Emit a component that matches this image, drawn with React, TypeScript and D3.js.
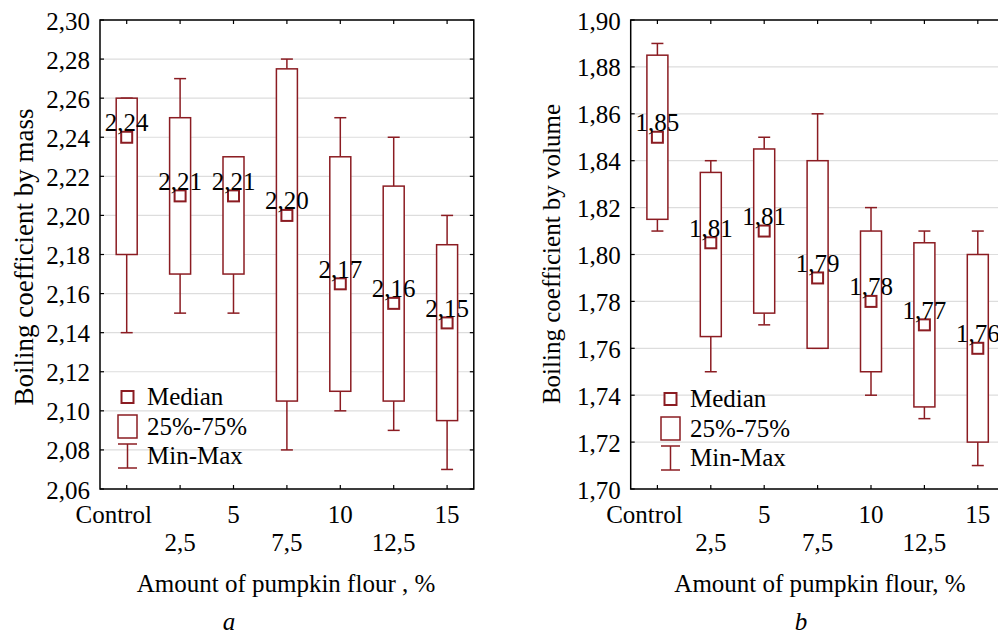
import React from "react";
import * as d3 from "d3";

const categories = ["Control", "2,5", "5", "7,5", "10", "12,5", "15"];

// Panel a: boiling coefficient by mass
const massMin = [2.14, 2.15, 2.15, 2.08, 2.10, 2.09, 2.07];
const massQ1 = [2.18, 2.17, 2.17, 2.105, 2.11, 2.105, 2.095];
const massMedian = [2.24, 2.21, 2.21, 2.20, 2.165, 2.155, 2.145];
const massQ3 = [2.26, 2.25, 2.23, 2.275, 2.23, 2.215, 2.185];
const massMax = [2.26, 2.27, 2.23, 2.28, 2.25, 2.24, 2.20];
const massLabels = ["2,24", "2,21", "2,21", "2,20", "2,17", "2,16", "2,15"];
const massTicks = [2.06, 2.08, 2.1, 2.12, 2.14, 2.16, 2.18, 2.2, 2.22, 2.24, 2.26, 2.28, 2.3];

// Panel b: boiling coefficient by volume
const volMin = [1.81, 1.75, 1.77, 1.76, 1.74, 1.73, 1.71];
const volQ1 = [1.815, 1.765, 1.775, 1.76, 1.75, 1.735, 1.72];
const volMedian = [1.85, 1.805, 1.81, 1.79, 1.78, 1.77, 1.76];
const volQ3 = [1.885, 1.835, 1.845, 1.84, 1.81, 1.805, 1.80];
const volMax = [1.89, 1.84, 1.85, 1.86, 1.82, 1.81, 1.81];
const volLabels = ["1,85", "1,81", "1,81", "1,79", "1,78", "1,77", "1,76"];
const volTicks = [1.7, 1.72, 1.74, 1.76, 1.78, 1.8, 1.82, 1.84, 1.86, 1.88, 1.9];

const legendItems = ["Median", "25%-75%", "Min-Max"];

const RED = "#8b1c22";
const FONT = "Liberation Serif, Tinos, Times New Roman, Times, serif";
const FS = 25;
const TS: React.CSSProperties = { fontFamily: FONT, fontSize: FS };

const fmt = (v: number) => v.toFixed(2).replace(".", ",");

type PanelProps = {
  left: number;
  yDomain: [number, number];
  ticks: number[];
  mins: number[];
  q1: number[];
  med: number[];
  q3: number[];
  maxs: number[];
  labels: string[];
  yTitle: string;
  yTitleX: number;
  yTitleY: number;
  yTitleSize: number;
  xTitle: string;
  xTitleX: number;
  letter: string;
  letterX: number;
  legendX: number;
  legendY: number;
};

function Panel(p: PanelProps) {
  const top = 20;
  const bottom = 489;
  const step = 53.4;
  const right = p.left + step * categories.length;
  const x = d3.scaleBand<string>().domain(categories).range([p.left, right]).paddingInner(0).paddingOuter(0);
  const cx = (c: string) => (x(c) as number) + x.bandwidth() / 2;
  const y = d3.scaleLinear().domain(p.yDomain).range([bottom, top]);
  const boxW = 21;
  const capW = 12;
  const medS = 11;
  const tick = 4;

  return (
    <g>
      {/* grid */}
      {p.ticks.map((t) => (
        <line key={"g" + t} x1={p.left} x2={right} y1={y(t)} y2={y(t)} stroke="#dddddd" strokeWidth={1.2} />
      ))}
      {/* boxes */}
      {categories.map((c, i) => {
        const xc = cx(c);
        return (
          <g key={"b" + c} stroke={RED} fill="none">
            <line x1={xc} x2={xc} y1={y(p.maxs[i])} y2={y(p.q3[i])} strokeWidth={1.5} />
            <line x1={xc} x2={xc} y1={y(p.q1[i])} y2={y(p.mins[i])} strokeWidth={1.5} />
            <line x1={xc - capW / 2} x2={xc + capW / 2} y1={y(p.maxs[i])} y2={y(p.maxs[i])} strokeWidth={1.5} />
            <line x1={xc - capW / 2} x2={xc + capW / 2} y1={y(p.mins[i])} y2={y(p.mins[i])} strokeWidth={1.5} />
            <rect x={xc - boxW / 2} y={y(p.q3[i])} width={boxW} height={y(p.q1[i]) - y(p.q3[i])} fill="white" strokeWidth={1.5} />
            <rect x={xc - medS / 2} y={y(p.med[i]) - medS / 2} width={medS} height={medS} fill="white" strokeWidth={2} />
          </g>
        );
      })}
      {/* median labels */}
      {categories.map((c, i) => (
        <text key={"l" + c} x={cx(c)} y={y(p.med[i]) - 6} textAnchor="middle" style={TS} fill="#000">
          {p.labels[i]}
        </text>
      ))}
      {/* frame */}
      <rect x={p.left} y={top} width={right - p.left} height={bottom - top} fill="none" stroke="#000" strokeWidth={1.5} />
      {/* y ticks */}
      {p.ticks.map((t) => (
        <g key={"t" + t}>
          <line x1={p.left} x2={p.left + tick} y1={y(t)} y2={y(t)} stroke="#000" strokeWidth={1.2} />
          <line x1={right - tick} x2={right} y1={y(t)} y2={y(t)} stroke="#000" strokeWidth={1.2} />
          <text x={p.left - 10} y={y(t)} dy="0.38em" textAnchor="end" style={TS} fill="#000">
            {fmt(t)}
          </text>
        </g>
      ))}
      {/* x ticks */}
      {categories.map((c, i) => (
        <g key={"x" + c}>
          <line x1={cx(c)} x2={cx(c)} y1={top} y2={top + tick} stroke="#000" strokeWidth={1.2} />
          <line x1={cx(c)} x2={cx(c)} y1={bottom} y2={bottom - tick} stroke="#000" strokeWidth={1.2} />
          <text x={i === 0 ? cx(c) - 13 : cx(c)} y={i % 2 === 0 ? 523 : 551} textAnchor="middle" style={TS} fill="#000">
            {c}
          </text>
        </g>
      ))}
      {/* legend */}
      <g>
        <rect x={p.legendX + 3.5} y={p.legendY - 6} width={12} height={12} fill="white" stroke={RED} strokeWidth={2} />
        <rect x={p.legendX} y={p.legendY + 18} width={19} height={23} fill="white" stroke={RED} strokeWidth={1.5} />
        <line x1={p.legendX + 9.5} x2={p.legendX + 9.5} y1={p.legendY + 47} y2={p.legendY + 71} stroke={RED} strokeWidth={1.5} />
        <line x1={p.legendX} x2={p.legendX + 19} y1={p.legendY + 47} y2={p.legendY + 47} stroke={RED} strokeWidth={1.5} />
        <line x1={p.legendX} x2={p.legendX + 19} y1={p.legendY + 71} y2={p.legendY + 71} stroke={RED} strokeWidth={1.5} />
        {legendItems.map((t, i) => (
          <text key={t} x={p.legendX + 29} y={p.legendY + 8 + i * 29.5} style={TS} fill="#000">
            {t}
          </text>
        ))}
      </g>
      {/* axis titles */}
      <text
        transform={`translate(${p.yTitleX},${p.yTitleY}) rotate(-90)`}
        textAnchor="middle"
        style={{ ...TS, fontSize: p.yTitleSize }}
        fill="#000"
      >
        {p.yTitle}
      </text>
      <text x={p.xTitleX} y={592} textAnchor="middle" style={TS} fill="#000">
        {p.xTitle}
      </text>
      <text x={p.letterX} y={630} textAnchor="middle" style={{ ...TS, fontStyle: "italic" }} fill="#000">
        {p.letter}
      </text>
    </g>
  );
}

export default function App() {
  return (
    <svg width={998} height={639} style={{ position: "absolute", left: 0, top: 0, background: "#fff" }}>
      <rect x={0} y={0} width={998} height={639} fill="#fff" />
      <Panel
        left={100}
        yDomain={[2.06, 2.3]}
        ticks={massTicks}
        mins={massMin}
        q1={massQ1}
        med={massMedian}
        q3={massQ3}
        maxs={massMax}
        labels={massLabels}
        yTitle="Boiling coefficient by mass"
        yTitleX={33}
        yTitleY={257}
        yTitleSize={27}
        xTitle="Amount of pumpkin flour , %"
        xTitleX={286}
        letter="a"
        letterX={229}
        legendX={118}
        legendY={397}
      />
      <Panel
        left={630.7}
        yDomain={[1.7, 1.9]}
        ticks={volTicks}
        mins={volMin}
        q1={volQ1}
        med={volMedian}
        q3={volQ3}
        maxs={volMax}
        labels={volLabels}
        yTitle="Boiling coefficient by volume"
        yTitleX={560}
        yTitleY={254}
        yTitleSize={25}
        xTitle="Amount of pumpkin flour, %"
        xTitleX={820}
        letter="b"
        letterX={801}
        legendX={661}
        legendY={399}
      />
    </svg>
  );
}
